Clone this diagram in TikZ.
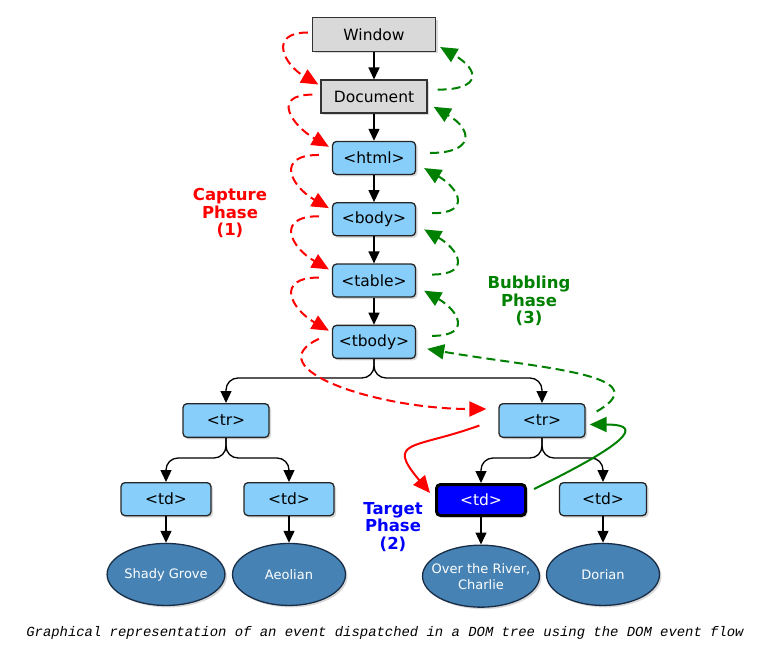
\documentclass[tikz,border=0pt]{standalone}
\usepackage{fontspec}
\setmainfont{DejaVu Sans}
\setmonofont{Liberation Mono}
\usepackage{tikz}
\usetikzlibrary{positioning}
\usetikzlibrary{arrows.meta}
\usetikzlibrary{shapes.geometric}
\usetikzlibrary{shadows}
\definecolor{boxgray}	{RGB}	{217,217,217}
\definecolor{boxblue}	{RGB}	{135,206,250}
\definecolor{leafblue}	{RGB}	{70,130,180}
\definecolor{leafedge}	{RGB}	{25,45,70}
\definecolor{capred}	{RGB}	{255,0,0}
\definecolor{bubgreen}	{RGB}	{0,128,0}
\definecolor{tgtblue}	{RGB}	{0,0,255}

\begin{document}
\begin{tikzpicture}[x=1pt,y=1pt,
  every node/.append style={font=\fontsize{15.5}{17}\selectfont},
  boxshadow/.style={drop shadow={shadow xshift=2pt,shadow yshift=-2pt,opacity=0.3}},
  graybox/.style={rectangle, draw=black!80, line width=1.3pt, fill=boxgray,
                  minimum height=33pt, inner sep=0pt, boxshadow},
  bluebox/.style={rectangle, rounded corners=4pt, draw=black!85, line width=1.3pt, fill=boxblue,
                  minimum width=83pt, minimum height=33pt, inner sep=0pt, boxshadow},
  targetbox/.style={bluebox, fill=tgtblue, draw=black, line width=3pt, text=white,
                  minimum width=89pt, minimum height=31pt},
  leaf/.style={ellipse, draw=leafedge, line width=1.3pt, fill=leafblue, text=white,
               minimum width=113pt, minimum height=62pt, inner sep=0pt,
               font=\fontsize{13}{16}\selectfont, boxshadow},
  phase/.style={align=center, font=\bfseries\fontsize{16.5}{17.5}\selectfont},
  tree/.style={-{Triangle[length=12pt,width=11pt]}, line width=1.3pt, rounded corners=12pt},
  capture/.style={-{Triangle[length=17pt,width=15pt]}, capred, line width=2pt,
                  dash pattern=on 9pt off 5pt},
  bubble/.style={-{Triangle[length=17pt,width=15pt]}, bubgreen, line width=2pt,
                 dash pattern=on 9pt off 5pt},
  capture solid/.style={capture, solid},
  bubble solid/.style={bubble, solid}
  ]
  \useasboundingbox (0,0) rectangle (778,-655);

  \node (win) [graybox, minimum width=123pt, minimum height=33.7pt] at (374,-34.5) {Window};
  \node (doc) [graybox, minimum width=106pt, below=27.5pt of win] {Document};
  \node (html) [bluebox, below=27pt of doc] {<html>};
  \node (body) [bluebox, below=27pt of html] {<body>};
  \node (table) [bluebox, below=27pt of body] {<table>};
  \node (tbody) [bluebox, below=27pt of table] {<tbody>};
  \node (trL) [bluebox, minimum width=86pt, minimum height=33.7pt, below=44pt of tbody, xshift=-148pt] {<tr>};
  \node (trR) [bluebox, minimum width=86pt, minimum height=33.7pt, below=44pt of tbody, xshift=168pt] {<tr>};
  \node (tdA) [bluebox, minimum width=90pt, below=44pt of trL, xshift=-60pt] {<td>};
  \node (tdB) [bluebox, minimum width=90pt, below=44pt of trL, xshift=63pt] {<td>};
  \node (tdC) [targetbox, below=45pt of trR, xshift=-61pt] {<td>};
  \node (tdD) [bluebox, minimum width=87pt, below=44pt of trR, xshift=61pt] {<td>};
  \node (leafA) [leaf, below=26.5pt of tdA] {Shady Grove};
  \node (leafB) [leaf, below=26.5pt of tdB] {Aeolian};
  \node (leafC) [leaf, inner xsep=-8pt, minimum width=115pt, below=27.5pt of tdC, align=center] {Over the River,\\Charlie};
  \node (leafD) [leaf, below=26.5pt of tdD] {Dorian};

  \node (capture) [phase, text=capred] at (230,-213) {Capture\\Phase\\(1)};
  \node (bubbling) [phase, text=bubgreen] at (529,-301) {Bubbling\\Phase\\(3)};
  \node (target) [phase, text=tgtblue] at (393,-527) {Target\\Phase\\(2)};
  \node (caption) [font=\ttfamily\itshape\fontsize{13.9}{16}\selectfont] at (385,-633)
     {Graphical representation of an event dispatched in a DOM tree using the DOM event flow};

  \draw[tree] (win) -- (doc);
  \draw[tree] (doc) -- (html);
  \draw[tree] (html) -- (body);
  \draw[tree] (body) -- (table);
  \draw[tree] (table) -- (tbody);
  \draw[tree] (tbody.south) -- ++(0,-19) -| (trL.north);
  \draw[tree] (tbody.south) -- ++(0,-19) -| (trR.north);
  \draw[tree] (trL.south) -- ++(0,-20) -| (tdA.north);
  \draw[tree] (trL.south) -- ++(0,-20) -| (tdB.north);
  \draw[tree] (trR.south) -- ++(0,-20) -| (tdC.north);
  \draw[tree] (trR.south) -- ++(0,-20) -| (tdD.north);
  \draw[tree] (tdA) -- (leafA);
  \draw[tree] (tdB) -- (leafB);
  \draw[tree] (tdC) -- (leafC);
  \draw[tree] (tdD) -- (leafD);

  % capture phase
  \draw[capture] ([shift={(-4,2)}]win.west) to[out=180,in=150,distance=40pt] ([shift={(-2,-5)}]doc.north west);
  \draw[capture] ([shift={(-8,2)}]doc.west) to[out=180,in=150,distance=42pt] ([shift={(-3,-6)}]html.north west);
  \draw[capture] ([shift={(-13,3)}]html.west) to[out=180,in=150,distance=44pt] ([shift={(-3,-6)}]body.north west);
  \draw[capture] ([shift={(-13,3)}]body.west) to[out=180,in=150,distance=44pt] ([shift={(-3,-6)}]table.north west);
  \draw[capture] ([shift={(-13,3)}]table.west) to[out=180,in=150,distance=44pt] ([shift={(-3,-6)}]tbody.north west);
  \draw[capture] ([shift={(-13,3)}]tbody.west) to[out=205,in=180,out distance=70pt,in distance=110pt] ([shift={(-12,-6)}]trR.north west);
  \draw[capture solid] ([shift={(-19,-5)}]trR.west) to[out=200,in=130,distance=70pt] ([shift={(-5,7)}]tdC.west);

  % bubbling phase
  \draw[bubble solid] ([shift={(7,-6)}]tdC.north east) to[out=26,in=0,out distance=125pt,in distance=45pt] ([shift={(4,-4)}]trR.east);
  \draw[bubble] ([shift={(11,9)}]trR.east) to[out=30,in=-10,out distance=75pt,in distance=110pt] ([shift={(11,-7)}]tbody.east);
  \draw[bubble] ([shift={(16,6)}]tbody.east) to[out=0,in=-30,distance=40pt] ([shift={(8,7)}]table.south east);
  \draw[bubble] ([shift={(16,6)}]table.east) to[out=0,in=-30,distance=40pt] ([shift={(8,7)}]body.south east);
  \draw[bubble] ([shift={(16,6)}]body.east) to[out=0,in=-30,distance=40pt] ([shift={(8,7)}]html.south east);
  \draw[bubble] ([shift={(14,5)}]html.east) to[out=0,in=-30,distance=45pt] ([shift={(6,7)}]doc.south east);
  \draw[bubble] ([shift={(10,7)}]doc.east) to[out=0,in=-30,distance=45pt] ([shift={(4,5)}]win.south east);
\end{tikzpicture}
\end{document}
